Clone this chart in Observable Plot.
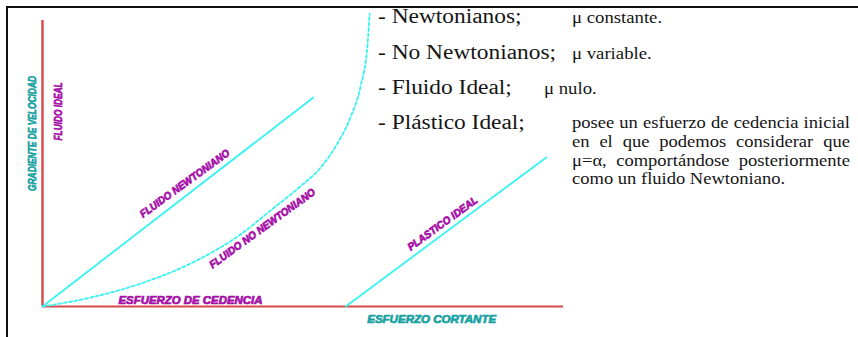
<!DOCTYPE html>
<html lang="es">
<head>
<meta charset="utf-8">
<script src="https://cdn.jsdelivr.net/npm/d3@7"></script>
<script src="https://cdn.jsdelivr.net/npm/@observablehq/plot@0.6"></script>
<style>
  html, body { margin: 0; padding: 0; background: #fff; overflow: hidden; }
  #page { position: relative; width: 858px; height: 337px; overflow: hidden; background: #fff; }
  #chart { position: absolute; left: 0; top: 0; }
  .frame { position: absolute; left: 6px; top: 6px; width: 900px; height: 400px;
           border-left: 2px solid #111; border-top: 2px solid #111; pointer-events: none; }
  .notes { position: absolute; left: 0; top: 0; font-family: "Liberation Serif", "Times New Roman", serif; color: #151515; }
  .row { position: absolute; white-space: nowrap; line-height: 1; transform-origin: 0 0; transform: scaleX(1.17); }
  .head { font-size: 20px; }
  .small { font-size: 16px; }
  .para { position: absolute; left: 572px; top: 114.3px; width: 240px; font-size: 16px; line-height: 18.7px;
          transform-origin: 0 0; transform: scaleX(1.158); }
  .para span { display: block; text-align: justify; text-align-last: justify; }
  .para span:last-child { text-align-last: left; }
</style>
</head>
<body>
<div id="page">
  <div id="chart"></div>
  <div class="notes" id="notes"></div>
  <div class="frame"></div>
</div>
<script>
// Esfuerzo cortante (x) frente a gradiente de velocidad (y), unidades relativas
const shearDomain = [0, 10];
const gradientDomain = [0, 10];

// Fluido newtoniano: recta desde el origen
const newtonX = [0, 5.2];
const newtonY = [0, 7.31];

// Fluido no newtoniano: curva creciente
const nonNewtonX = [0, 0.92, 1.88, 2.84, 3.80, 4.38, 4.95, 5.34, 5.66, 5.91, 6.10, 6.24, 6.28];
const nonNewtonY = [0, 0.31, 0.80, 1.50, 2.52, 3.36, 4.20, 4.86, 5.70, 6.61, 7.66, 9.20, 10.24];

// Plástico ideal: recta que arranca en el esfuerzo de cedencia
const plasticX = [5.82, 9.67];
const plasticY = [0, 5.21];

// Títulos de los ejes y su punto de anclaje (unidades de datos)
const axisTitles = ["GRADIENTE DE VELOCIDAD", "ESFUERZO CORTANTE"];
const axisTitleX = [-0.19, 7.47];
const axisTitleY = [6.05, -0.45];

// Nombres de las curvas y su punto de anclaje (unidades de datos)
const curveNames = ["FLUIDO IDEAL", "FLUIDO NEWTONIANO", "FLUIDO NO NEWTONIANO", "PLASTICO IDEAL", "ESFUERZO DE CEDENCIA"];
const curveNameX = [0.31, 2.73, 4.22, 7.68, 2.84];
const curveNameY = [6.82, 4.30, 2.73, 2.90, 0.19];

// Clasificación de los fluidos
const fluidTypes = ["- Newtonianos;", "- No Newtonianos;", "- Fluido Ideal;", "- Plástico Ideal;"];
const fluidNotes = ["μ constante.", "μ variable.", "μ nulo."];
const plasticNote = [
  "posee un esfuerzo de cedencia inicial",
  "en el que podemos considerar que",
  "μ=α, comportándose posteriormente",
  "como un fluido Newtoniano."
];

const toPoints = (xs, ys) => xs.map((x, i) => ({x, y: ys[i]}));
const toLabels = (texts, xs, ys) => texts.map((text, i) => ({text, x: xs[i], y: ys[i]}));

const CYAN = "#38f2f2";
const AXIS_RED = "#d94848";
const MAGENTA = "#a60fa8";
const TEAL = "#18a2a2";

const rotation = {
  "GRADIENTE DE VELOCIDAD": -90,
  "FLUIDO IDEAL": -90,
  "ESFUERZO CORTANTE": 0,
  "ESFUERZO DE CEDENCIA": 0
};
const textLengths = {
  "GRADIENTE DE VELOCIDAD": 115,
  "FLUIDO IDEAL": 58,
  "FLUIDO NEWTONIANO": 108,
  "FLUIDO NO NEWTONIANO": 128,
  "PLASTICO IDEAL": 84,
  "ESFUERZO DE CEDENCIA": 144,
  "ESFUERZO CORTANTE": 129
};
const fontSizes = {
  "GRADIENTE DE VELOCIDAD": 11.5,
  "FLUIDO IDEAL": 11.5
};

const labelStyle = (color) => ({
  x: "x", y: "y", text: "text",
  rotate: d => rotation[d.text] ?? -36,
  fontSize: d => fontSizes[d.text] ?? 10.5,
  fontFamily: "Liberation Sans, Arial, sans-serif",
  fontWeight: "bold",
  fontStyle: "italic",
  fill: color,
  stroke: color,
  strokeWidth: 0.7,
  textAnchor: "middle"
});

const chart = Plot.plot({
  width: 858,
  height: 337,
  marginLeft: 42,
  marginRight: 295,
  marginTop: 20,
  marginBottom: 31,
  style: {background: "transparent"},
  x: {domain: shearDomain, axis: null},
  y: {domain: gradientDomain, axis: null},
  marks: [
    // ejes
    Plot.ruleX([shearDomain[0]], {y1: gradientDomain[0], y2: gradientDomain[1], stroke: AXIS_RED, strokeWidth: 2.4}),
    Plot.ruleY([gradientDomain[0]], {x1: shearDomain[0], x2: shearDomain[1], stroke: AXIS_RED, strokeWidth: 2}),
    // curvas
    Plot.line(toPoints(newtonX, newtonY), {x: "x", y: "y", stroke: CYAN, strokeWidth: 1.8}),
    Plot.line(toPoints(plasticX, plasticY), {x: "x", y: "y", stroke: CYAN, strokeWidth: 1.8}),
    Plot.line(toPoints(nonNewtonX, nonNewtonY), {x: "x", y: "y", curve: "monotone-x", stroke: CYAN, strokeWidth: 1.8, strokeDasharray: "3,2.4"}),
    // rótulos
    Plot.text(toLabels(axisTitles, axisTitleX, axisTitleY), labelStyle(TEAL)),
    Plot.text(toLabels(curveNames, curveNameX, curveNameY), labelStyle(MAGENTA))
  ]
});

d3.select(chart).selectAll("text").each(function () {
  const len = textLengths[this.textContent.trim()];
  if (len) {
    this.setAttribute("textLength", len);
    this.setAttribute("lengthAdjust", "spacingAndGlyphs");
  }
});

document.getElementById("chart").appendChild(chart);

// Lista de tipos de fluido a la derecha del gráfico
const notes = d3.select("#notes");
const headBaselines = [23, 59, 94, 129];
const noteLeft = [572, 572, 544];
fluidTypes.forEach((t, i) => {
  notes.append("div").attr("class", "row head")
    .style("left", "378px").style("top", (headBaselines[i] - 20 * 0.8375) + "px").text(t);
});
fluidNotes.forEach((t, i) => {
  notes.append("div").attr("class", "row small")
    .style("left", noteLeft[i] + "px").style("top", (headBaselines[i] - 16 * 0.8375) + "px").text(t);
});
const para = notes.append("div").attr("class", "para");
plasticNote.forEach(line => para.append("span").text(line));
</script>
</body>
</html>
